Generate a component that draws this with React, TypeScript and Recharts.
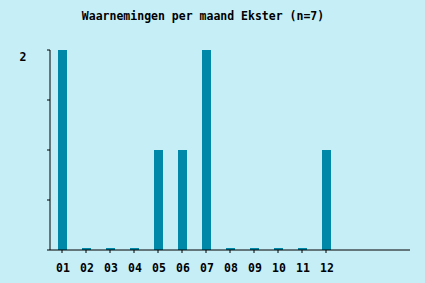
import { Bar, BarChart, XAxis, YAxis } from "recharts"

const months = ["01", "02", "03", "04", "05", "06", "07", "08", "09", "10", "11", "12"]
const counts = [2, 0, 0, 0, 1, 1, 2, 0, 0, 0, 0, 1]
const yTicks = [0, 0.5, 1, 1.5, 2]

const title = "Waarnemingen per maand Ekster (n=7)"
const font = "'DejaVu Sans Mono', monospace"

const data = months.map((m, i) => ({ month: m, count: counts[i] }))

const YTick = (props: any) => {
  const { y, payload } = props
  if (payload.value !== 2) return null
  return (
    <text x={23} y={y + 11} textAnchor="middle" fontFamily={font} fontSize={11.5} fontWeight="bold" fill="#000">
      2
    </text>
  )
}

const XTick = (props: any) => {
  const { x, payload } = props
  return (
    <text x={x + 1} y={272} textAnchor="middle" fontFamily={font} fontSize={11.5} fontWeight="bold" fill="#000">
      {payload.value}
    </text>
  )
}

export default function App() {
  return (
    <div style={{ position: "relative", width: 425, height: 283, background: "#c6eef7" }}>
      <style>{`body{margin:0}`}</style>
      <div
        style={{
          position: "absolute",
          top: 8,
          left: 0,
          width: 406,
          textAlign: "center",
          fontFamily: font,
          fontSize: 11.5,
          fontWeight: "bold",
          lineHeight: "16px",
          color: "#000",
        }}
      >
        {title}
      </div>
      <BarChart width={425} height={283} data={data} margin={{ top: 50, right: 15, bottom: 0, left: 0 }} barSize={9}>
        <XAxis
          dataKey="month"
          height={33}
          padding={{ left: 0, right: 72 }}
          stroke="#000"
          tickSize={3}
          tick={<XTick />}
          interval={0}
        />
        <YAxis
          width={50}
          domain={[0, 2]}
          ticks={yTicks}
          stroke="#000"
          tickSize={3}
          tick={<YTick />}
        />
        <Bar dataKey="count" fill="#0088a8" minPointSize={2} isAnimationActive={false} />
      </BarChart>
    </div>
  )
}
